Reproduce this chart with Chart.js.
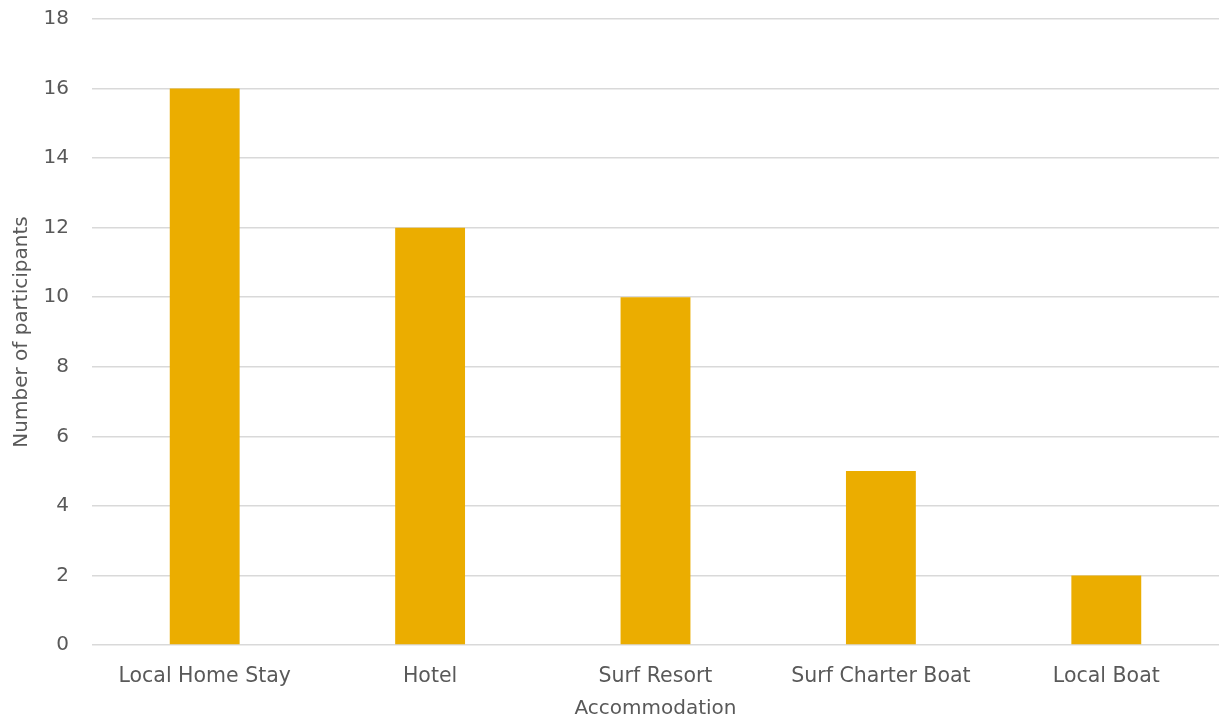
<!DOCTYPE html>
<html>
<head>
<meta charset="utf-8">
<script src="https://cdn.jsdelivr.net/npm/chart.js@4.4.1/dist/chart.umd.min.js"></script>
<style>
  html, body { margin: 0; padding: 0; background: #ffffff; }
  #wrap { width: 1219px; height: 721px; position: relative; }
</style>
</head>
<body>
<div id="wrap"><canvas id="c"></canvas></div>
<script>
// Accommodation type vs. number of participants
const categories = ['Local Home Stay', 'Hotel', 'Surf Resort', 'Surf Charter Boat', 'Local Boat'];
const participants = [16, 12, 10, 5, 2];
const yTicks = [0, 2, 4, 6, 8, 10, 12, 14, 16, 18];

const FONT = "'DejaVu Sans', sans-serif";
const TEXT = '#595959';

new Chart(document.getElementById('c'), {
  type: 'bar',
  data: {
    labels: categories,
    datasets: [{
      label: 'Number of participants',
      data: participants,
      backgroundColor: '#EBAD00',
      borderWidth: 0,
      barPercentage: 0.31,
      categoryPercentage: 1.0
    }]
  },
  options: {
    responsive: true,
    maintainAspectRatio: false,
    animation: false,
    layout: { padding: { top: 19, right: 0, bottom: 0, left: 0 } },
    plugins: { legend: { display: false }, tooltip: { enabled: false } },
    scales: {
      x: {
        grid: { display: false, drawTicks: false },
        border: { display: false },
        ticks: { color: TEXT, font: { family: FONT, size: 20.5 }, padding: 19, maxRotation: 0 },
        title: { display: true, text: 'Accommodation', color: TEXT, font: { family: FONT, size: 20 }, padding: { top: 8, bottom: 0 } },
        afterFit: s => { s.height = 76; s.paddingLeft = 0; s.paddingRight = 0; }
      },
      y: {
        min: 0, max: 18,
        afterBuildTicks: s => { s.ticks = yTicks.map(v => ({ value: v })); },
        grid: { color: '#D9D9D9', lineWidth: 1.5, drawTicks: false },
        border: { display: false },
        ticks: { color: TEXT, font: { family: FONT, size: 20 }, padding: 23 },
        title: { display: true, text: 'Number of participants', color: TEXT, font: { family: FONT, size: 20 }, padding: { top: 10, bottom: 0 } },
        afterFit: s => { s.width = 92; s.paddingTop = 0; s.paddingBottom = 0; }
      }
    }
  }
});
</script>
</body>
</html>
